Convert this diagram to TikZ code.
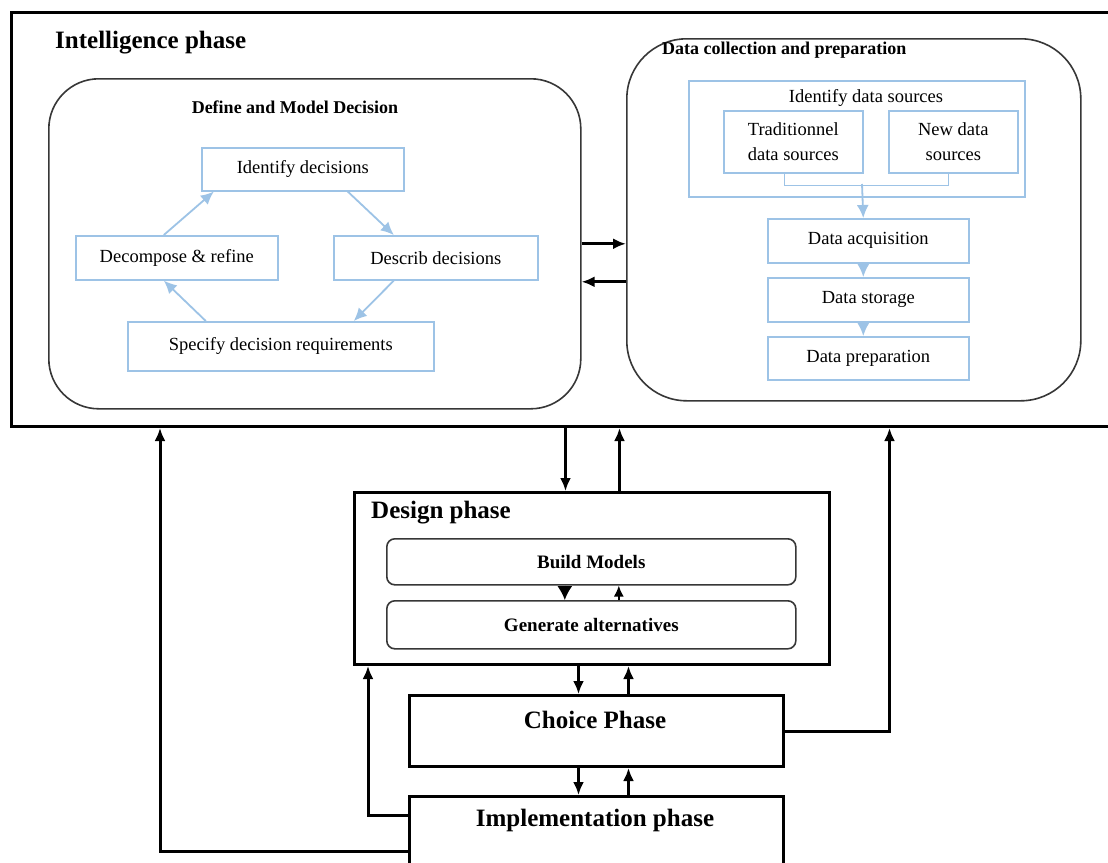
\documentclass[tikz,border=0pt]{standalone}
\usepackage{fontspec}
\setmainfont{Liberation Serif}
\usetikzlibrary{arrows.meta}
\definecolor{lblue}{RGB}{157,195,230}
\definecolor{dgray}{RGB}{55,55,55}
\tikzset{
  phasebox/.style={draw=black, line width=3pt, inner sep=0pt, anchor=north west},
  roundbox/.style={draw=dgray, line width=1.6pt, inner sep=0pt, anchor=north west},
  bluebox/.style={draw=lblue, line width=1.6pt, inner sep=0pt, anchor=north west, align=center,
    font=\fontsize{18.5}{25}\selectfont},
  bigtitle/.style={font=\fontsize{25}{30}\selectfont\bfseries, inner sep=0pt},
  midtitle/.style={font=\fontsize{18}{22}\selectfont\bfseries, inner sep=0pt},
  regtext/.style={font=\fontsize{18.5}{22}\selectfont, inner sep=0pt},
  blk/.style={draw=black, line width=3pt, -{Latex[length=13pt,width=11pt]}},
  blkdown/.style={draw=black, line width=1.5pt, -{Latex[length=14pt,width=15pt]}},
  blkup/.style={draw=black, line width=1.5pt, -{Latex[length=11pt,width=10pt]}},
  blu/.style={draw=lblue, line width=1.8pt, -{Latex[length=13pt,width=12pt]}},
  bluline/.style={draw=lblue, line width=1.6pt},
}
\begin{document}
\begin{tikzpicture}[x=1pt,y=-1pt]
\clip (0,0) rectangle (1108,862);
\fill[white] (0,0) rectangle (1108,862);

% Intelligence phase
\node[phasebox, minimum width=1120pt, minimum height=414pt] (intel) at (10,11) {};
\node[bigtitle, anchor=west] (intelt) at (55,43) {Intelligence phase};

% Left rounded box
\node[roundbox, rounded corners=50pt, minimum width=532pt, minimum height=330pt] (lbox) at (48,78) {};
\node[midtitle] (lboxt) at (295,107) {Define and Model Decision};
\node[bluebox, minimum width=202pt, minimum height=43pt] (idd) at (201,147) {Identify decisions};
\node[bluebox, minimum width=202pt, minimum height=44pt] (dec) at (75,235) {Decompose \& refine};
\node[bluebox, minimum width=204pt, minimum height=44pt] (des) at (333,235) {Describ decisions};
\node[bluebox, minimum width=306pt, minimum height=49pt] (spec) at (127,321) {Specify decision requirements};

\draw[blu] ([xshift=-13pt]dec.north) -- ([xshift=-89pt]idd.south);
\draw[blu] ([xshift=45pt]idd.south) -- ([xshift=-42pt]des.north);
\draw[blu] ([xshift=-42pt]des.south) -- ([xshift=73pt]spec.north);
\draw[blu] ([xshift=-75pt]spec.north) -- ([xshift=-13pt]dec.south);

% Right rounded box
\node[roundbox, rounded corners=60pt, minimum width=454pt, minimum height=362pt] (rbox) at (626,38) {};
\node[midtitle, anchor=west] (rboxt) at (662,50) {Data collection and preparation};
\node[bluebox, minimum width=336pt, minimum height=116pt] (ids) at (688,80) {};
\node[regtext] (idst) at (866,98) {Identify data sources};
\node[bluebox, minimum width=139pt, minimum height=62pt] (trad) at (723,110) {Traditionnel\\data sources};
\node[bluebox, minimum width=129pt, minimum height=62pt] (newd) at (888,110) {New data\\sources};
\node[bluebox, minimum width=201pt, minimum height=44pt] (acq) at (767,218) {Data acquisition};
\node[bluebox, minimum width=201pt, minimum height=44pt] (sto) at (767,277) {Data storage};
\node[bluebox, minimum width=201pt, minimum height=43pt] (prep) at (767,336) {Data preparation};

\draw[bluline] ([xshift=-9pt]trad.south) -- ++(0,12) coordinate (jl) -| ([xshift=-5pt]newd.south);
\coordinate (join) at (862,184);
\draw[blu] (join) -- ([xshift=-5pt]acq.north);
\draw[blu] ([xshift=-5pt]acq.south) -- ([xshift=-5pt]sto.north);
\draw[blu] ([xshift=-5pt]sto.south) -- ([xshift=-5pt]prep.north);

% arrows between left and right boxes
\draw[blk] (lbox.east) -- (lbox.east -| rbox.west);
\path (lbox.east) ++(0,38) coordinate (l2);
\draw[blk] (l2 -| rbox.west) -- (l2);

% Design phase
\node[phasebox, minimum width=475pt, minimum height=172pt] (design) at (353,491) {};
\node[bigtitle, anchor=west] (designt) at (371,513) {Design phase};
\node[roundbox, rounded corners=8pt, minimum width=409pt, minimum height=46pt,
  font=\fontsize{19}{22}\selectfont\bfseries] (build) at (386,538) {Build Models};
\node[roundbox, rounded corners=8pt, minimum width=409pt, minimum height=48pt,
  font=\fontsize{19}{22}\selectfont\bfseries] (gen) at (386,600) {Generate alternatives};
\draw[blkdown] ([xshift=-26.5pt]build.south) -- ([xshift=-26.5pt]gen.north);
\draw[blkup] ([xshift=27.5pt]gen.north) -- ([xshift=27.5pt]build.south);

% intel <-> design
\draw[blk] ([xshift=-6pt]intel.south) -- ([xshift=-26.5pt]design.north);
\draw[blk] ([xshift=27.5pt]design.north) -- ([xshift=48pt]intel.south);

% Choice phase
\node[phasebox, minimum width=374pt, minimum height=71pt] (choice) at (408,694) {};
\node[bigtitle] (choicet) at (595,720) {Choice Phase};
\draw[blk] ([xshift=-13.5pt]design.south) -- ([xshift=-18pt]choice.north);
\draw[blk] ([xshift=32pt]choice.north) -- ([xshift=36.5pt]design.south);

% Implementation phase
\node[phasebox, minimum width=374pt, minimum height=120pt] (impl) at (408,795) {};
\node[bigtitle] (implt) at (595,820) {Implementation phase};
\draw[blk] ([xshift=-18pt]choice.south) -- ([xshift=-18pt]impl.north);
\draw[blk] ([xshift=32pt]impl.north) -- ([xshift=32pt]choice.south);

% feedback loops
\draw[blk] (choice.east) -| ([xshift=318pt]intel.south);
\draw[blk] ([yshift=-20pt]impl.north west) -| ([xshift=15pt]design.south west);
\draw[blk] ([yshift=-56pt]impl.north west) -| ([xshift=150pt]intel.south west);
\end{tikzpicture}
\end{document}
